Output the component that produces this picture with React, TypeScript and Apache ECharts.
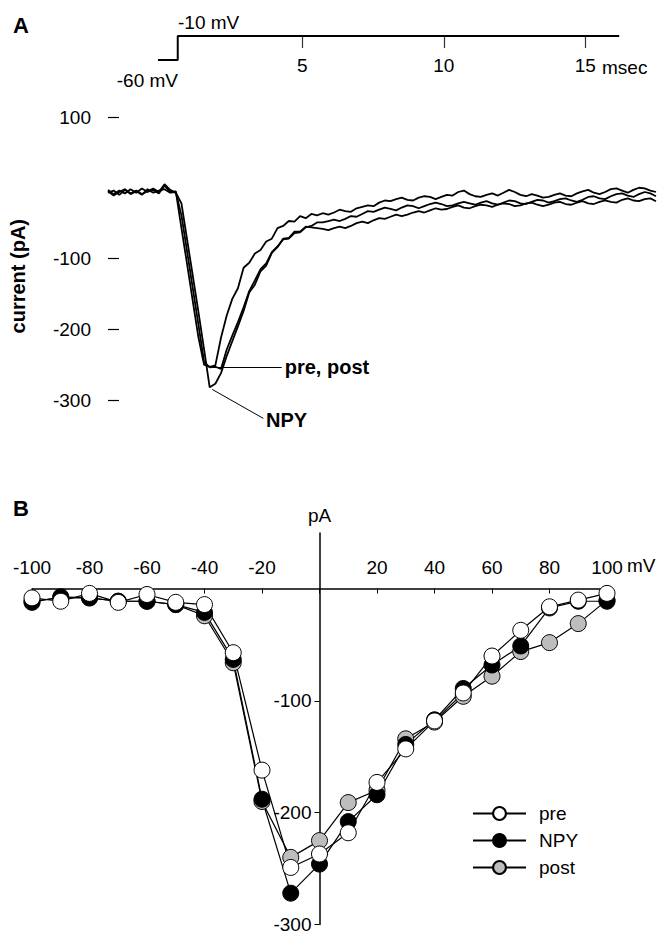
import React, { useEffect, useRef } from 'react';
import * as echarts from 'echarts';

const FONT = '"Liberation Sans", Arial, Helvetica, sans-serif';

// ---------- Panel A: current traces ----------
const timeMs = [
  -1.9, -1.7, -1.5, -1.3, -1.1, -0.9, -0.7, -0.5, -0.3, -0.1,
  0.1, 0.3, 0.5, 0.7, 0.9, 1.1, 1.3, 1.5, 1.7, 1.9,
  2.1, 2.3, 2.5, 2.7, 2.9, 3.1, 3.3, 3.5, 3.7, 3.9,
  4.1, 4.3, 4.5, 4.7, 4.9, 5.1, 5.3, 5.5, 5.7, 5.9,
  6.1, 6.3, 6.5, 6.7, 6.9, 7.1, 7.3, 7.5, 7.7, 7.9,
  8.1, 8.3, 8.5, 8.7, 8.9, 9.1, 9.3, 9.5, 9.7, 9.9,
  10.1, 10.3, 10.5, 10.7, 10.9, 11.1, 11.3, 11.5, 11.7, 11.9,
  12.1, 12.3, 12.5, 12.7, 12.9, 13.1, 13.3, 13.5, 13.7, 13.9,
  14.1, 14.3, 14.5, 14.7, 14.9, 15.1, 15.3, 15.5, 15.7, 15.9,
  16.1, 16.3, 16.5, 16.7, 16.9, 17.1, 17.3, 17.5,
];

const currentPre = [
  -3, -9, -4, -8, -2, -7, -1, -6, -3, -8, 3, -6, -5,
  -57, -108, -160, -211, -250, -253, -251, -212, -181, -157, -142, -113, -106, -93, -88, -76, -72, -57, -54, -47, -48, -40, -43, -37, -39,
  -36, -38, -35, -31, -33, -34, -29, -27, -25, -26,
  -21, -18, -19, -16, -14, -17, -18, -14, -12, -13,
  -16, -13, -10, -11, -6, -4, -9, -12, -13, -10,
  -8, -11, -7, -3, -6, -10, -12, -9, -11, -14,
  -13, -10, -8, -11, -12, -8, -5, -3, -7, -9,
  -6, -2, -1, -4, -7, -3, 0, -1, -4, -6,
];

const currentPost = [
  -7, -4, -10, -3, -9, -5, -10, -2, -7, -4, -2, -7, -6,
  -39, -90, -142, -193, -246, -254, -253, -256, -229, -209, -190, -169, -146, -131, -115, -107, -91, -83, -73, -72, -64, -63, -56, -54, -49,
  -49, -47, -45, -47, -44, -40, -41, -37, -33, -34,
  -31, -28, -30, -32, -28, -25, -26, -29, -26, -23,
  -21, -23, -26, -25, -22, -20, -22, -24, -21, -19,
  -22, -24, -21, -18, -19, -22, -23, -20, -17, -18,
  -21, -19, -16, -15, -18, -20, -17, -13, -12, -15,
  -16, -12, -9, -8, -11, -13, -9, -6, -8, -12,
];

const currentNPY = [
  -5, -11, -6, -2, -8, -4, -9, -5, -1, -6, 5, -3, -7,
  -22, -73, -124, -175, -228, -282, -277, -262, -238, -217, -196, -174, -148, -137, -118, -110, -92, -84, -72, -71, -62, -62, -55, -56, -57,
  -58, -60, -57, -55, -57, -54, -50, -48, -50, -46,
  -43, -44, -41, -38, -40, -38, -35, -33, -35, -32,
  -29, -31, -30, -27, -25, -28, -29, -26, -24, -25,
  -27, -24, -22, -23, -26, -25, -22, -21, -24, -26,
  -24, -21, -20, -23, -24, -21, -19, -22, -23, -20,
  -18, -20, -21, -17, -15, -18, -19, -16, -15, -19,
];

// voltage step protocol
const stepTimeMs = [-0.1, 0.6, 0.6, 16.2];
const stepVoltageMv = [-60, -60, -10, -10];
const timeTicks = [5, 10, 15];
const currentTicksA = [-300, -200, -100, 100];

// ---------- Panel B: I-V relation ----------
const voltageMv = [-100, -90, -80, -70, -60, -50, -40, -30, -20, -10, 0, 10, 20, 30, 40, 50, 60, 70, 80, 90, 100];
const ivPre = [-8, -11, -4, -12, -5, -12, -14, -57, -162, -249, -237, -218, -173, -143, -118, -93, -60, -37, -16, -10, -4];
const ivNPY = [-12, -7, -8, -11, -11, -14, -21, -63, -188, -272, -246, -208, -184, -139, -117, -89, -68, -51, -17, -11, -11];
const ivPost = [-11, -8, -8, -11, -11, -14, -24, -66, -190, -240, -225, -191, -180, -134, -119, -96, -78, -56, -48, -31, -10];
const ivCurrentTicks = [-300, -200, -100];

export default function App() {
  const ref = useRef<HTMLDivElement>(null);

  useEffect(() => {
    document.body.style.margin = '0';
    if (!ref.current) return;
    const chart = echarts.init(ref.current, undefined, { renderer: 'svg' });

    const pairs = (xs: number[], ys: number[]) => xs.map((x, i) => [x, ys[i]]);
    const txt = { fontFamily: FONT, fontSize: 19, color: '#000' };

    const traceSeries = (name: string, vals: number[], markLine?: any) => ({
      name,
      type: 'line',
      xAxisIndex: 0,
      yAxisIndex: 0,
      data: pairs(timeMs, vals),
      showSymbol: false,
      symbol: 'none',
      lineStyle: { color: '#000', width: 1.8 },
      silent: true,
      markLine,
    });

    const leader = (from: number[], to: number[], label: string) => ({
      silent: true,
      symbol: ['none', 'none'],
      animation: false,
      lineStyle: { type: 'solid', color: '#000', width: 1 },
      label: {
        show: true,
        position: 'end',
        distance: 3,
        formatter: label,
        fontFamily: FONT,
        fontSize: 20,
        fontWeight: 'bold',
        color: '#000',
      },
      data: [[{ coord: from }, { coord: to }]],
    });

    const ivSeries = (name: string, vals: number[], fill: string) => ({
      name,
      type: 'line',
      xAxisIndex: 2,
      yAxisIndex: 2,
      data: pairs(voltageMv, vals),
      symbol: 'circle',
      symbolSize: 16,
      itemStyle: { color: fill, borderColor: '#000', borderWidth: 1 },
      lineStyle: { color: '#000', width: 1.2 },
      clip: false,
    });

    // panel B grid geometry (axes cross at 0 mV / 0 pA)
    const bLeft = 32, bRight = 52, bTop = 533, bBottom = 9;
    const bWidth = 659 - bLeft - bRight;
    const bHeight = 934 - bTop - bBottom;
    const xMinB = -100, xMaxB = 100, yMinB = -300, yMaxB = 50;
    const yAxisShift = -bWidth * (0 - xMinB) / (xMaxB - xMinB);
    const xAxisShift = -bHeight * (0 - yMinB) / (yMaxB - yMinB);

    chart.setOption({
      animation: false,
      textStyle: { fontFamily: FONT },
      grid: [
        { left: 107, right: 3, top: 117, height: 318.4 },
        { left: 107, right: 3, top: 36, height: 24 },
        { left: bLeft, right: bRight, top: bTop, bottom: bBottom },
      ],
      xAxis: [
        { gridIndex: 0, type: 'value', min: -1.9, max: 17.5, show: false },
        {
          gridIndex: 1,
          type: 'value',
          min: -1.9,
          max: 17.5,
          position: 'top',
          axisLine: { show: false, onZero: false },
          splitLine: { show: false },
          axisTick: { show: true, inside: true, length: 12, customValues: timeTicks, lineStyle: { color: '#333', width: 1.2 } },
          axisLabel: { inside: true, margin: 20, customValues: timeTicks, ...txt },
        },
        {
          gridIndex: 2,
          type: 'value',
          min: xMinB,
          max: xMaxB,
          interval: 20,
          position: 'bottom',
          offset: xAxisShift,
          axisLine: { onZero: false, lineStyle: { color: '#000', width: 1.5 } },
          axisTick: { length: 5, lineStyle: { color: '#000', width: 1 } },
          axisLabel: {
            inside: true,
            margin: 12,
            showMinLabel: true,
            showMaxLabel: true,
            formatter: (v: number) => (v === 0 ? '' : String(v)),
            ...txt,
          },
          splitLine: { show: false },
        },
      ],
      yAxis: [
        {
          gridIndex: 0,
          type: 'value',
          min: -350,
          max: 100,
          axisLine: { show: false, onZero: false },
          splitLine: { show: false },
          axisTick: { show: true, inside: true, length: 11, customValues: currentTicksA, lineStyle: { color: '#000', width: 1.2 } },
          axisLabel: { margin: 17, customValues: currentTicksA, ...txt },
          name: 'current (pA)',
          nameLocation: 'middle',
          nameGap: 80,
          nameTextStyle: { ...txt, fontSize: 20, fontWeight: 'bold' },
        },
        { gridIndex: 1, type: 'value', min: -60, max: -10, show: false, axisLine: { onZero: false } },
        {
          gridIndex: 2,
          type: 'value',
          min: yMinB,
          max: yMaxB,
          position: 'left',
          offset: yAxisShift,
          axisLine: { onZero: false, lineStyle: { color: '#000', width: 1.5 } },
          splitLine: { show: false },
          axisTick: { show: true, length: 5, customValues: ivCurrentTicks, lineStyle: { color: '#000', width: 1 } },
          axisLabel: { margin: 8, customValues: ivCurrentTicks, ...txt },
          name: 'pA',
          nameLocation: 'end',
          nameGap: 8,
          nameTextStyle: { ...txt },
        },
      ],
      legend: {
        data: ['pre', 'NPY', 'post'],
        orient: 'vertical',
        left: 467,
        top: 799,
        itemWidth: 53,
        itemHeight: 16,
        itemGap: 8,
        textStyle: { ...txt, padding: [0, 0, 0, 8] },
        selectedMode: false,
      },
      series: [
        traceSeries('tracePost', currentPost),
        traceSeries('traceNPY', currentNPY, leader([1.79, -285], [3.6, -326], 'NPY')),
        traceSeries('tracePre', currentPre, leader([1.84, -254], [4.25, -254], 'pre, post')),
        {
          name: 'step',
          type: 'line',
          xAxisIndex: 1,
          yAxisIndex: 1,
          data: pairs(stepTimeMs, stepVoltageMv),
          showSymbol: false,
          symbol: 'none',
          lineStyle: { color: '#000', width: 2 },
          clip: false,
          silent: true,
        },
        ivSeries('post', ivPost, '#bdbdbd'),
        ivSeries('NPY', ivNPY, '#000'),
        ivSeries('pre', ivPre, '#fff'),
      ],
      graphic: [
        { type: 'text', x: 13, y: 25, style: { text: 'A', fill: '#000', font: `bold 22px ${FONT}`, verticalAlign: 'middle' } },
        { type: 'text', x: 13, y: 508, style: { text: 'B', fill: '#000', font: `bold 22px ${FONT}`, verticalAlign: 'middle' } },
        { type: 'text', x: 178, y: 22, style: { text: '-10 mV', fill: '#000', font: `19px ${FONT}`, verticalAlign: 'middle' } },
        { type: 'text', x: 178, y: 80, style: { text: '-60 mV', fill: '#000', font: `19px ${FONT}`, align: 'right', verticalAlign: 'middle' } },
        { type: 'text', x: 602, y: 67, style: { text: 'msec', fill: '#000', font: `19px ${FONT}`, verticalAlign: 'middle' } },
        { type: 'text', x: 627, y: 565, style: { text: 'mV', fill: '#000', font: `19px ${FONT}`, verticalAlign: 'middle' } },
      ],
    });

    return () => chart.dispose();
  }, []);

  return <div ref={ref} style={{ position: 'absolute', left: 0, top: 0, width: 659, height: 934 }} />;
}
